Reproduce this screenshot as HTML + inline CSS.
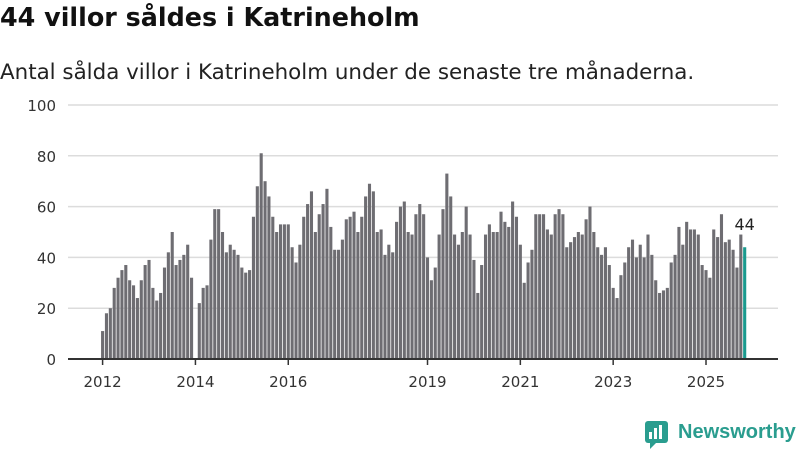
<!DOCTYPE html>
<html><head><meta charset="utf-8">
<style>
body{margin:0;width:800px;height:450px;background:#fff;font-family:"DejaVu Sans","Liberation Sans",sans-serif;overflow:hidden;position:relative}
h1{position:absolute;left:0;top:2px;margin:0;font-size:25.4px;font-weight:bold;color:#111}
.sub{position:absolute;left:0;top:60px;font-size:21.4px;color:#222}
svg{position:absolute;left:0;top:0}
.logo{position:absolute;left:678px;top:421px;font-size:20px;font-weight:bold;color:#2a9d8f;font-family:"Liberation Sans",sans-serif}
</style></head><body>
<h1>44 villor såldes i Katrineholm</h1>
<div class="sub">Antal sålda villor i Katrineholm under de senaste tre månaderna.</div>
<svg id="chart" width="800" height="450"></svg>
<svg width="800" height="450" style="pointer-events:none">
<rect x="645" y="421" width="23" height="22" rx="3" fill="#2a9d8f"/>
<rect x="649" y="432" width="3" height="7" fill="#fff"/><rect x="654" y="428" width="3" height="11" fill="#fff"/><rect x="659" y="425" width="3" height="14" fill="#fff"/>
<path d="M650 443 L650 449 L656 443 Z" fill="#2a9d8f"/>
</svg>
<div class="logo">Newsworthy</div>
<script>
const values = [
11,18,20,28,32,35,37,31,29,24,31,37,
39,28,23,26,36,42,50,37,39,41,45,32,
0,22,28,29,47,59,59,50,42,45,43,41,
36,34,35,56,68,81,70,64,56,50,53,53,
53,44,38,45,56,61,66,50,57,61,67,52,
43,43,47,55,56,58,50,56,64,69,66,50,
51,41,45,42,54,60,62,50,49,57,61,57,
40,31,36,49,59,73,64,49,45,50,60,49,
39,26,37,49,53,50,50,58,54,52,62,56,
45,30,38,43,57,57,57,51,49,57,59,57,
44,46,48,50,49,55,60,50,44,41,44,37,
28,24,33,38,44,47,40,45,40,49,41,31,
26,27,28,38,41,52,45,54,51,51,49,37,
35,32,51,48,57,46,47,43,36,49,44];
const startYear = 2012;
const yTicks = [0,20,40,60,80,100];
const xTickYears = [2012,2014,2016,2019,2021,2023,2025];
const NS="http://www.w3.org/2000/svg";
const svg=document.getElementById('chart');
const y=v=>359-v*2.54;
const xc=k=>102.6+k*3.868;
function mk(t,a){const e=document.createElementNS(NS,t);for(const k in a)e.setAttribute(k,a[k]);svg.appendChild(e);return e;}
yTicks.forEach(t=>{
  if(t>0){const g=mk('line',{x1:68,x2:778,y1:y(t),y2:y(t),stroke:'#dcdcdc','stroke-width':1.5});
  
  }
  const l=mk('text',{x:56,y:y(t)+6,'text-anchor':'end','font-size':15,fill:'#333'});l.textContent=t;
  
  
});
values.forEach((v,k)=>{
  if(v<=0)return;
  const last=k===values.length-1;
  const r=mk('rect',{x:xc(k)-1.55,y:y(v),width:3.1,height:359-y(v),fill:last?'#1a9a8e':'#6e6d72'});
  
  
});
const lv=values[values.length-1];
const lab=mk('text',{x:xc(values.length-1),y:y(lv)-17,'text-anchor':'middle','font-size':16,fill:'#222'});lab.textContent=lv;


const ax=mk('line',{x1:68,x2:778,y1:359,y2:359,stroke:'#333','stroke-width':2});


xTickYears.forEach(yr=>{
  const x=xc((yr-startYear)*12);
  const t=mk('line',{x1:x,x2:x,y1:359,y2:365,stroke:'#333','stroke-width':1.5});
  
  
  const l=mk('text',{x:x,y:387,'text-anchor':'middle','font-size':15,fill:'#333'});l.textContent=yr;
  
  
});
</script>
</body></html>
